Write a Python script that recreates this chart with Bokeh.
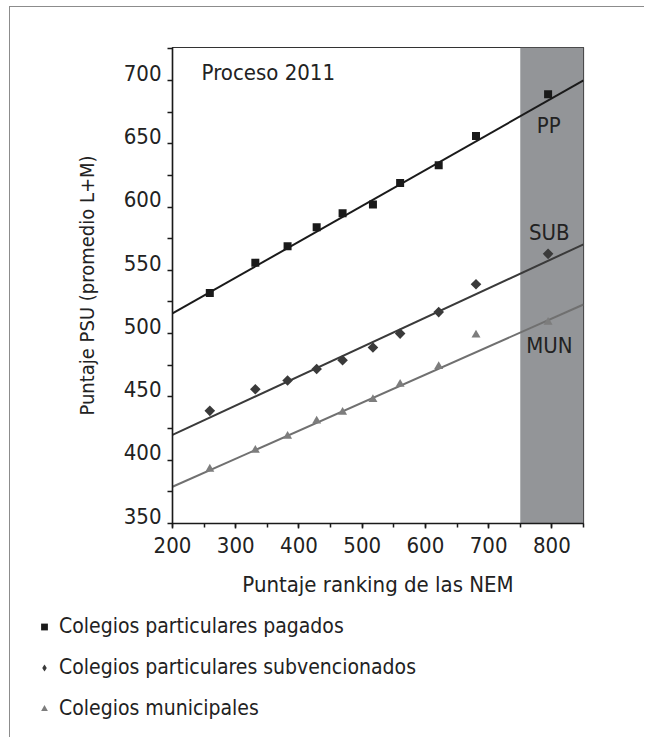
import math
from bokeh.plotting import figure
from bokeh.layouts import column
from bokeh.models import (Range1d, BoxAnnotation, Legend, LegendItem, SingleIntervalTicker,
                          FixedTicker, Label, ColumnDataSource, LinearAxis)
from bokeh.core.properties import value
from bokeh.embed import file_html
from bokeh.resources import INLINE

FONT = "'Liberation Sans Narrow', 'Arial Narrow', 'DejaVu Sans Condensed', sans-serif"

# ---- data ----
nem = [259, 331, 382, 428, 469, 517, 560, 621, 680, 794]
pp = [532, 556, 569, 584, 595, 602, 619, 633, 656, 689]
sub = [439, 456, 463, 472, 479, 489, 500, 517, 539, 563]
mun = [393, 408, 419, 431, 438, 448, 460, 474, 499, 509]

fit_x = [200, 850]
pp_fit = [516, 700]
sub_fit = [420, 570.5]
mun_fit = [379, 523]

series_names = ["Colegios particulares pagados",
                "Colegios particulares subvencionados",
                "Colegios municipales"]
series_tags = ["PP", "SUB", "MUN"]
tag_x = [795, 796, 796]
tag_y = [664, 580, 491]

band_start, band_end = 750, 850
y_lo, y_hi = 350, 726
y_marks = list(range(350, 726, 25))   # tick marks on the PSU axis
label_lift = 6.1                       # tick labels sit slightly above their ticks

PP_C, SUB_C, MUN_C = "#1a1a1a", "#3a3a3a", "#7d7d7d"
DIAMOND = math.pi / 4

p = figure(width=634, height=603, output_backend="svg", toolbar_location=None,
           x_range=Range1d(200, 850), y_range=Range1d(y_lo, y_hi),
           min_border_left=162, min_border_right=61, min_border_top=40,
           min_border_bottom=87)
p.extra_y_ranges = {"lab": Range1d(y_lo - label_lift, y_hi - label_lift)}
p.grid.visible = False
p.outline_line_color = "#333333"
p.outline_line_width = 1.2

band = BoxAnnotation(left=band_start, right=band_end, fill_color="#939598",
                     fill_alpha=1.0, line_color=None, level="underlay")
p.add_layout(band)

p.line(fit_x, pp_fit, line_color=PP_C, line_width=2)
p.line(fit_x, sub_fit, line_color=SUB_C, line_width=2)
p.line(fit_x, mun_fit, line_color="#707070", line_width=2)

p.scatter(nem, pp, marker="square", size=8, fill_color=PP_C, line_color=None)
p.scatter(nem, sub, marker="square", angle=DIAMOND, size=7.5, fill_color=SUB_C, line_color=None)
p.scatter(nem, mun, marker="triangle", size=9, fill_color=MUN_C, line_color=None)

src = ColumnDataSource(dict(x=tag_x, y=tag_y, t=series_tags))
p.text(x="x", y="y", text="t", source=src, text_align="center", text_baseline="middle",
       text_font=value(FONT), text_font_size="22px", text_color="#222222")

p.add_layout(Label(x=246, y=706, text="Proceso 2011", text_font=FONT,
                   text_font_size="22px", text_color="#222222", text_baseline="middle"))

def style(ax):
    ax.axis_line_color = "#1a1a1a"
    ax.axis_line_width = 1.5
    ax.major_tick_line_color = "#1a1a1a"
    ax.minor_tick_line_color = "#1a1a1a"
    ax.major_tick_line_width = 1.5
    ax.minor_tick_line_width = 1.5
    ax.major_tick_in = 0
    ax.minor_tick_in = 0
    ax.major_label_text_font = FONT
    ax.major_label_text_font_size = "22px"
    ax.major_label_text_color = "#222222"
    ax.axis_label_text_font = FONT
    ax.axis_label_text_font_size = "22px"
    ax.axis_label_text_font_style = "normal"
    ax.axis_label_text_color = "#222222"

style(p.xaxis[0])
p.xaxis.ticker = SingleIntervalTicker(interval=100, num_minor_ticks=2)
p.xaxis.major_tick_out = 5
p.xaxis.minor_tick_out = 4
p.xaxis.major_label_standoff = 8
p.xaxis.axis_label = "Puntaje ranking de las NEM"
p.xaxis.axis_label_standoff = 16

# inner y axis: line and tick marks only
yax = p.yaxis[0]
style(yax)
yax.ticker = FixedTicker(ticks=[], minor_ticks=y_marks)
yax.minor_tick_out = 5

# outer y axis: the tick labels, lifted a little, and the title
lab_ax = LinearAxis(y_range_name="lab", ticker=SingleIntervalTicker(interval=50, num_minor_ticks=0))
style(lab_ax)
lab_ax.axis_line_color = None
lab_ax.major_tick_line_color = None
lab_ax.minor_tick_line_color = None
lab_ax.major_tick_out = 0
lab_ax.major_label_standoff = 6
lab_ax.axis_label = "Puntaje PSU (promedio L+M)"
lab_ax.axis_label_text_font_size = "20px"
lab_ax.axis_label_standoff = 22
p.add_layout(lab_ax, "left")

# legend strip under the chart
q = figure(width=634, height=127, output_backend="svg", toolbar_location=None,
           x_range=Range1d(0, 1), y_range=Range1d(0, 1),
           x_axis_location=None, y_axis_location=None,
           min_border_left=0, min_border_right=0, min_border_top=0, min_border_bottom=0)
q.grid.visible = False
q.outline_line_color = None
leg_x = 24
try:
    q.frame_align = False
except AttributeError:
    leg_x = 24 - 162
# legend proxies: one point of each series, lying outside this strip's ranges
g_pp = q.scatter(nem[:1], pp[:1], marker="square", fill_color=PP_C, line_color=None)
g_sub = q.scatter(nem[:1], sub[:1], marker="diamond", fill_color=SUB_C, line_color=None)
g_mun = q.scatter(nem[:1], mun[:1], marker="triangle", fill_color=MUN_C, line_color=None)

legend = Legend(items=[LegendItem(label=series_names[0], renderers=[g_pp]),
                       LegendItem(label=series_names[1], renderers=[g_sub]),
                       LegendItem(label=series_names[2], renderers=[g_mun])],
                location=(leg_x, 17), padding=0, margin=0, spacing=17,
                glyph_width=20, glyph_height=17, label_standoff=5,
                label_text_font=FONT, label_text_font_size="21px",
                label_text_color="#222222", border_line_color=None,
                background_fill_alpha=0)
q.add_layout(legend, "center")

layout = column(p, q, spacing=0,
                styles={"margin-left": "9px", "margin-top": "6px",
                        "border-top": "1px solid #8c8c8c",
                        "border-left": "1px solid #8c8c8c"})

open("out.html", "w").write(file_html(layout, INLINE))
